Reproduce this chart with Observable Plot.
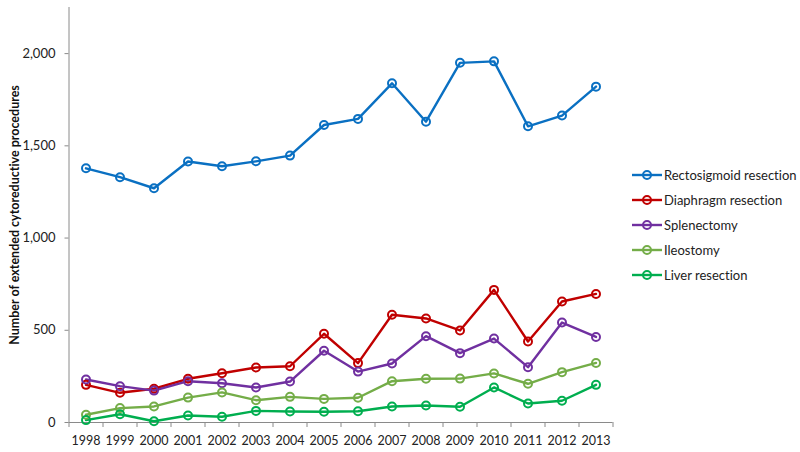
<!DOCTYPE html>
<html>
<head>
<meta charset="utf-8">
<script src="https://cdn.jsdelivr.net/npm/d3@7"></script>
<script src="https://cdn.jsdelivr.net/npm/@observablehq/plot@0.6"></script>
<style>
  html, body { margin: 0; padding: 0; background: #fff; }
  #wrap { position: relative; width: 800px; height: 452px; font-family: Lato, "Open Sans", sans-serif; font-variant-ligatures: none; }
  #legend { position: absolute; left: 632px; top: 162px; font-size: 13px; color: #222; white-space: nowrap; width: 168px; }
  .item { display: flex; align-items: center; height: 25px; }
  .item svg { margin-right: 1px; flex: none; }
  svg text { font-variant-ligatures: none; }
</style>
</head>
<body>
<div id="wrap"><div id="chart"></div><div id="legend"></div></div>
<script>
const years = [1998,1999,2000,2001,2002,2003,2004,2005,2006,2007,2008,2009,2010,2011,2012,2013];
const seriesNames = ["Rectosigmoid resection","Diaphragm resection","Splenectomy","Ileostomy","Liver resection"];
const seriesColors = ["#0A70C2","#C00000","#7030A0","#74AD48","#00AE4F"];
const rectosigmoid = [1378,1330,1270,1415,1389,1416,1447,1613,1646,1839,1631,1950,1958,1606,1664,1821];
const diaphragm    = [204,161,183,237,267,298,305,481,322,584,564,499,719,439,656,697];
const splenectomy  = [233,197,173,224,213,190,222,389,276,320,468,376,455,300,542,464];
const ileostomy    = [42,78,87,135,163,121,139,128,134,224,237,238,266,210,273,323];
const liver        = [13,45,7,38,31,63,60,58,61,87,92,85,190,103,118,204];
const yTicks = [0,500,1000,1500,2000];
const yMax = 2250;
const yLabel = "Number of extended cytoreductive procedures";

const allSeries = [rectosigmoid, diaphragm, splenectomy, ileostomy, liver];
const data = [];
allSeries.forEach((vals, i) => vals.forEach((v, j) => data.push({series: seriesNames[i], year: years[j], value: v})));

const xDomain = [years[0] - 0.5, years[years.length - 1] + 0.5];
const boundaries = years.map(y => y - 0.5).concat([years[years.length - 1] + 0.5]);
const axisColor = "#8a8a8a";

const chart = Plot.plot({
  width: 800,
  height: 452,
  marginLeft: 68.5,
  marginRight: 187.5,
  marginTop: 7,
  marginBottom: 30,
  style: {fontFamily: "Lato, 'Open Sans', sans-serif", fontSize: "12px", color: "#222", background: "#fff"},
  x: {domain: xDomain, axis: null},
  y: {domain: [0, yMax], axis: null},
  color: {domain: seriesNames, range: seriesColors},
  marks: [
    Plot.axisY({ticks: yTicks, tickFormat: d3.format(","), tickSize: 4, tickPadding: 9.5, stroke: axisColor, fontSize: 13, label: null}),
    Plot.axisX({ticks: boundaries, tickFormat: () => "", tickSize: 5, stroke: axisColor, label: null}),
    Plot.axisX({ticks: years, tickFormat: d => String(d), tickSize: 0, tickPadding: 14, fontSize: 12.5, label: null}),
    Plot.ruleX([xDomain[0]], {stroke: axisColor, strokeWidth: 1}),
    Plot.ruleY([0], {stroke: axisColor, strokeWidth: 1}),
    Plot.text([yLabel], {frameAnchor: "left", textAnchor: "middle", rotate: -90, dx: -54.5, fontWeight: "bold", fontSize: 12.5, fill: "#111"}),
    Plot.line(data, {x: "year", y: "value", z: "series", stroke: "series", strokeWidth: 2.4}),
    Plot.dot(data, {x: "year", y: "value", stroke: "series", r: 4, strokeWidth: 2, fill: "none"})
  ]
});
document.getElementById("chart").appendChild(chart);

const legend = document.getElementById("legend");
seriesNames.forEach((name, i) => {
  const div = document.createElement("div");
  div.className = "item";
  div.innerHTML = `<svg width="31" height="12"><line x1="0" x2="30" y1="6" y2="6" stroke="${seriesColors[i]}" stroke-width="2.4"/><circle cx="15" cy="6" r="4" fill="none" stroke="${seriesColors[i]}" stroke-width="2"/></svg><span>${name}</span>`;
  legend.appendChild(div);
});
</script>
</body>
</html>
